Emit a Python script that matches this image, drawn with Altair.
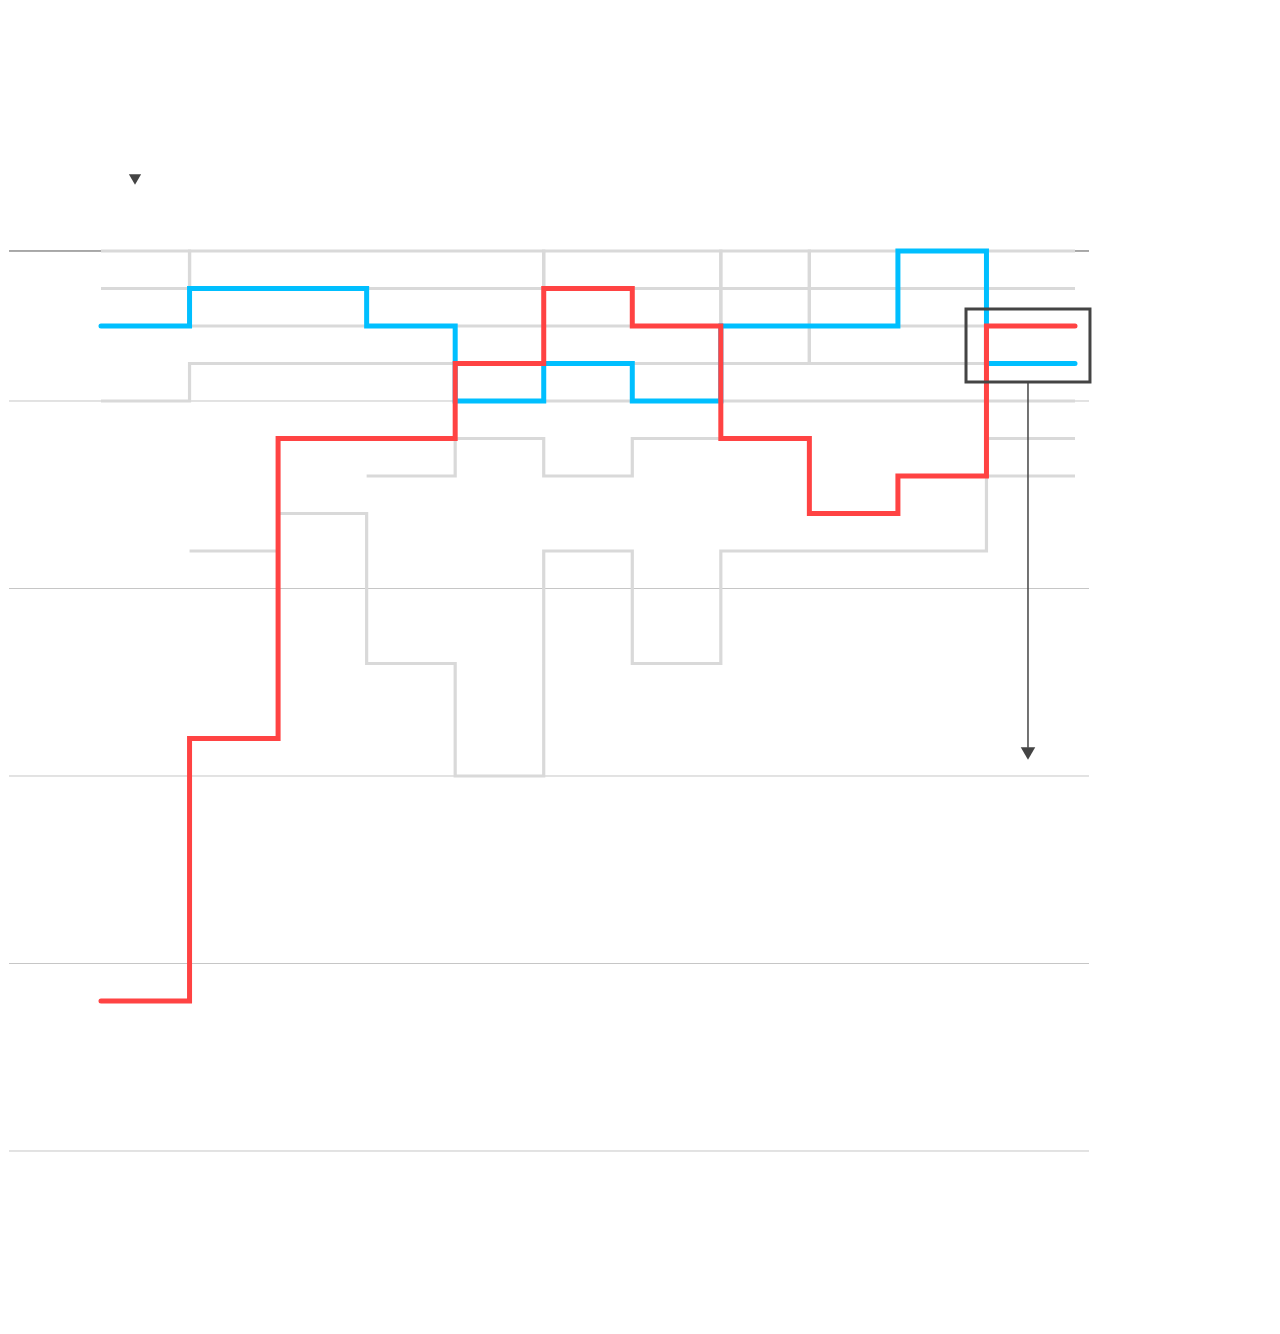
import altair as alt
import pandas as pd

# ---- data (ranks per period; None = not ranked yet) ----
periods = list(range(11))
red = [21, 14, 6, 6, 4, 2, 3, 6, 8, 7, 3]
blue = [3, 2, 2, 3, 5, 4, 5, 3, 3, 1, 4]
gray_a = [2, 1, 1, 1, 1, 3, 2, 2, 2, 2, 1]
gray_b = [1, 3, 3, 2, 2, 1, 1, 4, 1, 3, 2]
gray_c = [5, 4, 4, 4, 3, 5, 4, 1, 4, 4, 6]
gray_d = [None, 9, 8, 12, 15, 9, 12, 9, 9, 9, 7]
gray_e = [None, None, None, 7, 6, 7, 6, 5, 5, 5, 5]

grid_ranks = [1, 5, 10, 15, 20, 25]
grid_colors = ["#555555", "#c6c6c6", "#c6c6c6", "#c6c6c6", "#c6c6c6", "#c6c6c6"]

# annotation anchors in data units (period, rank)
marker_top = {"p": [0.384], "r": [-0.907]}
box = {"p": [9.769], "p2": [11.169], "r": [2.547], "r2": [4.493]}
arrow = {"p": [10.469], "r": [4.493], "r2": [14.25]}
arrow_head = {"p": [10.469], "r": [14.4]}


def series_rows(name, values):
    rows = []
    for p, v in zip(periods, values):
        if v is not None:
            rows.append({"series": name, "p": p, "rank": v})
    # extend last value to end of final period (step-after)
    rows.append({"series": name, "p": periods[-1] + 1, "rank": values[-1]})
    return rows


gray_rows = []
for nm, vals in [("A", gray_a), ("B", gray_b), ("C", gray_c), ("D", gray_d), ("E", gray_e)]:
    gray_rows += series_rows(nm, vals)
gray_df = pd.DataFrame(gray_rows)
red_df = pd.DataFrame(series_rows("red", red))
blue_df = pd.DataFrame(series_rows("blue", blue))
grid_df = pd.DataFrame({"rank": grid_ranks, "c": grid_colors})

W, H = 1080, 1300
xscale = alt.Scale(domain=[-1.039, 11.158], nice=False, zero=False)
yscale = alt.Scale(domain=[-5.48, 29.1867], reverse=True, nice=False, zero=False)

X = alt.X("p:Q", scale=xscale, axis=None)
Y = alt.Y("rank:Q", scale=yscale, axis=None)

grid = alt.Chart(grid_df).mark_rule(strokeWidth=1).encode(
    x=alt.value(0), x2=alt.value(W), y=Y, color=alt.Color("c:N", scale=None)
)

gray = alt.Chart(gray_df).mark_line(
    interpolate="step-after", color="#d9d9d9", strokeWidth=3.2, strokeJoin="miter", strokeCap="butt"
).encode(x=X, y=Y, detail="series:N")

blue_line = alt.Chart(blue_df).mark_line(
    interpolate="step-after", color="#00bfff", strokeWidth=5, strokeJoin="miter", strokeCap="round"
).encode(x=X, y=Y)

red_line = alt.Chart(red_df).mark_line(
    interpolate="step-after", color="#ff4343", strokeWidth=5, strokeJoin="miter", strokeCap="round"
).encode(x=X, y=Y)

top_marker = alt.Chart(pd.DataFrame(marker_top)).mark_point(
    shape="triangle-down", filled=True, color="#444444", size=150, opacity=1
).encode(x=X, y=alt.Y("r:Q", scale=yscale, axis=None))

box_mark = alt.Chart(pd.DataFrame(box)).mark_rect(
    fill="white", fillOpacity=0, stroke="#444444", strokeWidth=3
).encode(
    x=X, x2="p2:Q",
    y=alt.Y("r:Q", scale=yscale, axis=None), y2="r2:Q",
)

arrow_line = alt.Chart(pd.DataFrame(arrow)).mark_rule(color="#444444", strokeWidth=1.5).encode(
    x=X, y=alt.Y("r:Q", scale=yscale, axis=None), y2="r2:Q"
)

arrow_tip = alt.Chart(pd.DataFrame(arrow_head)).mark_point(
    shape="triangle-down", filled=True, color="#444444", size=210, opacity=1
).encode(x=X, y=alt.Y("r:Q", scale=yscale, axis=None))

chart = alt.layer(
    grid, gray, blue_line, red_line, box_mark, arrow_line, arrow_tip, top_marker
).properties(
    width=W, height=H,
    padding={"left": 0, "top": 0, "right": 12, "bottom": 0},
    background="white",
).configure_view(stroke=None)

chart.save("out.html", embed_options={"renderer": "svg", "actions": False})
